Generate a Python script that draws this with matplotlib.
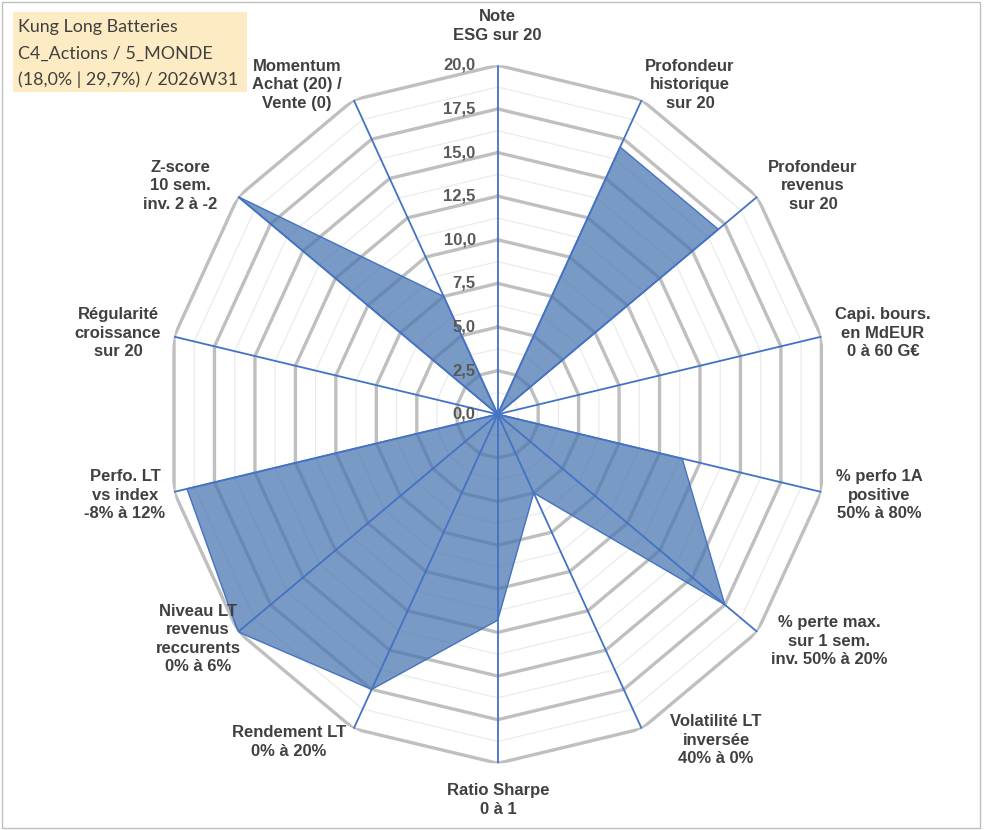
import numpy as np
import matplotlib
matplotlib.use('Agg')
import matplotlib.pyplot as plt
from matplotlib.patches import Rectangle
from matplotlib.transforms import ScaledTranslation

# ---------------- data ----------------
categories = [
    "Note\nESG sur 20",
    "Profondeur\nhistorique\nsur 20",
    "Profondeur\nrevenus\nsur 20",
    "Capi. bours.\nen MdEUR\n0 à 60 G€",
    "% perfo 1A\npositive\n50% à 80%",
    "% perte max.\nsur 1 sem.\ninv. 50% à 20%",
    "Volatilité LT\ninversée\n40% à 0%",
    "Ratio Sharpe\n0 à 1",
    "Rendement LT\n0% à 20%",
    "Niveau LT\nrevenus\nreccurents\n0% à 6%",
    "Perfo. LT\nvs index\n-8% à 12%",
    "Régularité\ncroissance\nsur 20",
    "Z-score\n10 sem.\ninv. 2 à -2",
    "Momentum\nAchat (20) /\nVente (0)",
]
values = [0.0, 17.0, 17.0, 0.0, 11.4, 17.5, 5.0, 11.8, 17.5, 20.0, 19.2, 0.0, 20.0, 7.5]
tick_values = [0.0, 2.5, 5.0, 7.5, 10.0, 12.5, 15.0, 17.5, 20.0]
tick_labels = ["0,0", "2,5", "5,0", "7,5", "10,0", "12,5", "15,0", "17,5", "20,0"]
title_lines = ["Kung Long Batteries", "C4_Actions / 5_MONDE", "(18,0% | 29,7%) / 2026W31"]

# ---------------- layout (pixels) ----------------
W, H = 991, 830
cx, cy = 497.7, 414.3
ry, rx = 349.0, 332.0
# label centres (pixels, from top-left)
label_pos = [(497, 26), (690, 85), (813, 186), (883, 333), (879, 495), (829, 641),
             (716, 740), (498, 800), (289, 742), (198, 639), (125, 495), (118, 333),
             (180, 186), (297, 85)]

fig = plt.figure(figsize=(W / 100, H / 100), dpi=100)
fig.patch.set_facecolor('white')

ax = fig.add_axes([(cx - rx) / W, (H - cy - ry) / H, 2 * rx / W, 2 * ry / H], projection='polar')
ax.set_aspect('auto')
ax.set_theta_zero_location('N')
ax.set_theta_direction(-1)
ax.set_ylim(0, 20)
ax.grid(False)
ax.spines['polar'].set_visible(False)
ax.set_xticks([])
ax.set_yticks([])
ax.patch.set_visible(False)

n = len(categories)
theta = np.arange(n) * 2 * np.pi / n
theta_c = np.append(theta, theta[0])

# minor grid
for r in np.arange(1.25, 20.01, 2.5):
    ax.plot(theta_c, [r] * (n + 1), color='#EBEBEB', lw=0.9, zorder=1)
# major grid
for r in tick_values[1:]:
    ax.plot(theta_c, [r] * (n + 1), color='#BFBFBF', lw=2.4, zorder=2, solid_joinstyle='miter')

# series
vals_c = np.append(values, values[0])
ax.fill(theta_c, vals_c, facecolor='#4B78B0', alpha=0.75, edgecolor='none', zorder=3)
ax.plot(theta_c, vals_c, color='#4472C4', lw=1.0, zorder=4)

# spokes
for t in theta:
    ax.plot([t, t], [0, 20], color='#4472C4', lw=1.3, zorder=5)

# radial tick labels
off = ScaledTranslation(-0.22, 0, fig.dpi_scale_trans)
for v, lab in zip(tick_values, tick_labels):
    ax.text(0, v, lab, transform=ax.transData + off, ha='right', va='center',
            fontsize=12, fontweight='bold', color='#595959', family='Liberation Sans', zorder=6)

# category labels
for lab, (px, py) in zip(categories, label_pos):
    fig.text(px / W, 1 - py / H, lab, ha='center', va='center', multialignment='center',
             fontsize=12, fontweight='bold', color='#404040', family='Liberation Sans',
             linespacing=1.3)

# title box
fig.patches.append(Rectangle((13 / W, 1 - 92 / H), (247 - 13) / W, 80 / H, transform=fig.transFigure,
                             facecolor='#FDEBC3', edgecolor='none', zorder=0))
for i, line in enumerate(title_lines):
    fig.text(18 / W, 1 - (27 + 26.3 * i) / H, line, ha='left', va='center', fontsize=12.9,
             color='#404040', family='Lato')

# chart area border
fig.patches.append(Rectangle((2 / W, 2 / H), 978 / W, 826 / H, transform=fig.transFigure,
                             facecolor='none', edgecolor='#BFBFBF', lw=1.0))

fig.savefig('out.png', dpi=100)
